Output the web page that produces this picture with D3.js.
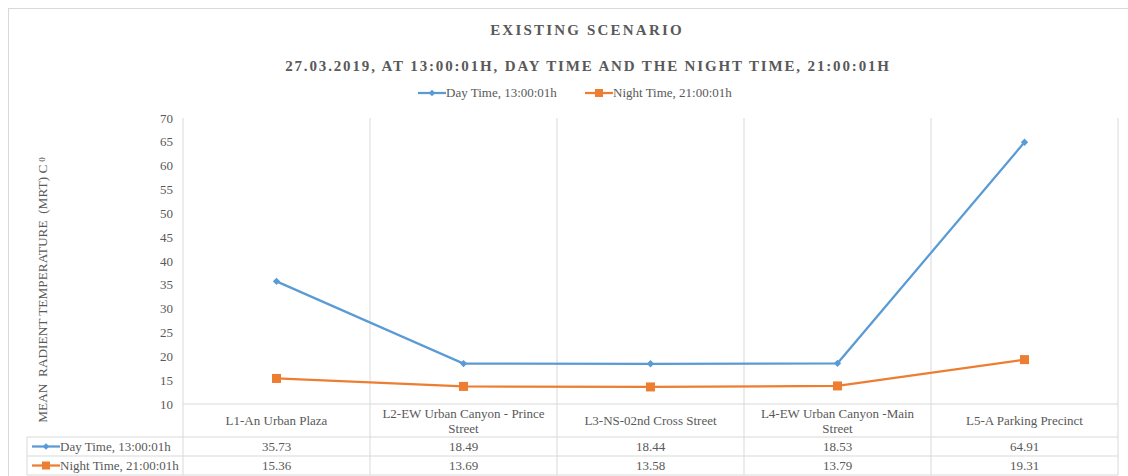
<!DOCTYPE html>
<html><head><meta charset="utf-8">
<script src="https://cdn.jsdelivr.net/npm/d3@7"></script>
<style>body{margin:0;background:#fff;}svg{display:block;} svg text{font-family:'Liberation Serif','DejaVu Serif',serif;}</style>
</head><body><svg id="c" width="1128" height="476" font-family="Liberation Serif, DejaVu Serif, serif"></svg>
<script>
const categories = [["L1-An Urban Plaza"],["L2-EW Urban Canyon - Prince","Street"],["L3-NS-02nd Cross Street"],["L4-EW Urban Canyon -Main","Street"],["L5-A Parking Precinct"]];
const dayValues = [35.73, 18.49, 18.44, 18.53, 64.91];
const nightValues = [15.36, 13.69, 13.58, 13.79, 19.31];
const seriesNames = ["Day Time, 13:00:01h", "Night Time, 21:00:01h"];
const yTicks = [10,15,20,25,30,35,40,45,50,55,60,65,70];
const title = "EXISTING SCENARIO";
const subtitle = "27.03.2019, AT 13:00:01H, DAY TIME AND THE NIGHT TIME, 21:00:01H";
const yLabel = "MEAN  RADIENT TEMPERATURE  (MRT) C";

const colors = ["#5B9BD5", "#ED7D31"];
const txt = "#595959", grid = "#d9d9d9";
const FF = "'Liberation Serif','DejaVu Serif',serif";
const svg = d3.select("#c");

svg.append("rect").attr("x",8.5).attr("y",8.5).attr("width",1130).attr("height",480).attr("fill","none").attr("stroke","#d9d9d9");

const pL = 183, pR = 1118, pT = 118, pB = 404;
const x = d3.scaleBand().domain(d3.range(categories.length)).range([pL, pR]);
const y = d3.scaleLinear().domain([10,70]).range([pB, pT]);

function T(sel){ return sel.append("text").style("font-family",FF).attr("fill",txt); }

T(svg).attr("x",587).attr("y",35).attr("text-anchor","middle").attr("font-size",15).attr("font-weight","bold").attr("letter-spacing",2.2).text(title);
T(svg).attr("x",588).attr("y",71).attr("text-anchor","middle").attr("font-size",15).attr("font-weight","bold").attr("letter-spacing",1.85).text(subtitle);

const leg = [{x:418, i:0},{x:585, i:1}];
leg.forEach(l=>{
  const g = svg.append("g");
  g.append("line").attr("x1",l.x).attr("x2",l.x+28).attr("y1",93).attr("y2",93).attr("stroke",colors[l.i]).attr("stroke-width",2.25);
  if(l.i===0) g.append("path").attr("d",d3.symbol(d3.symbolDiamond2,28)()).attr("transform",`translate(${l.x+14},93)`).attr("fill",colors[0]);
  else g.append("rect").attr("x",l.x+10).attr("y",89).attr("width",8).attr("height",8).attr("fill",colors[1]);
  T(g).attr("x",l.x+28).attr("y",97).attr("font-size",13).text(seriesNames[l.i]);
});

const yl = T(svg).attr("transform","translate(47,290) rotate(-90)").attr("text-anchor","middle").attr("font-size",13.3).attr("xml:space","preserve").style("white-space","pre");
yl.append("tspan").text(yLabel);
yl.append("tspan").attr("font-size",9).attr("dy",-2).attr("dx",3).text("0");

svg.append("g").selectAll("text").data(yTicks).join("text").style("font-family",FF).attr("fill",txt).attr("x",173).attr("y",d=>y(d)+4.5).attr("text-anchor","end").attr("font-size",13).text(d=>d);

const bounds = categories.map((c,i)=>x(i)).concat([pR]);
svg.append("g").selectAll("line").data(bounds).join("line").attr("x1",d=>d).attr("x2",d=>d).attr("y1",pT).attr("y2",475).attr("stroke",grid);
svg.append("line").attr("x1",pL).attr("x2",pR).attr("y1",pB).attr("y2",pB).attr("stroke",grid);

const rowY = [404, 437, 456, 475];
const tableLeft = 27;
rowY.slice(1).forEach(r=>svg.append("line").attr("x1",tableLeft).attr("x2",pR).attr("y1",r).attr("y2",r).attr("stroke",grid));
svg.append("line").attr("x1",tableLeft).attr("x2",tableLeft).attr("y1",437).attr("y2",475).attr("stroke",grid);

categories.forEach((c,i)=>{
  const cx = x(i)+x.bandwidth()/2;
  const t = T(svg).attr("text-anchor","middle").attr("font-size",13);
  if(c.length===1) t.append("tspan").attr("x",cx).attr("y",425).text(c[0]);
  else c.forEach((line,j)=>t.append("tspan").attr("x",cx).attr("y",418+j*15).text(line));
});

[dayValues, nightValues].forEach((vals,si)=>{
  const ry = (rowY[si+1]+rowY[si+2])/2;
  const lx = 32;
  svg.append("line").attr("x1",lx).attr("x2",lx+28).attr("y1",ry).attr("y2",ry).attr("stroke",colors[si]).attr("stroke-width",2.25);
  if(si===0) svg.append("path").attr("d",d3.symbol(d3.symbolDiamond2,28)()).attr("transform",`translate(${lx+14},${ry})`).attr("fill",colors[0]);
  else svg.append("rect").attr("x",lx+10).attr("y",ry-4).attr("width",8).attr("height",8).attr("fill",colors[1]);
  T(svg).attr("x",lx+28).attr("y",ry+4.5).attr("font-size",13).text(seriesNames[si]);
  svg.append("g").selectAll("text").data(vals).join("text").style("font-family",FF).attr("fill",txt).attr("x",(d,i)=>x(i)+x.bandwidth()/2).attr("y",ry+4.5).attr("text-anchor","middle").attr("font-size",13).text(d=>d.toFixed(2));
});

const line = d3.line().x((d,i)=>x(i)+x.bandwidth()/2).y(d=>y(d));
svg.append("path").datum(dayValues).attr("d",line).attr("fill","none").attr("stroke",colors[0]).attr("stroke-width",2.25);
svg.append("path").datum(nightValues).attr("d",line).attr("fill","none").attr("stroke",colors[1]).attr("stroke-width",2.25);
svg.append("g").selectAll("path").data(dayValues).join("path").attr("d",d3.symbol(d3.symbolDiamond2,34)()).attr("transform",(d,i)=>`translate(${x(i)+x.bandwidth()/2},${y(d)})`).attr("fill",colors[0]);
svg.append("g").selectAll("rect").data(nightValues).join("rect").attr("x",(d,i)=>x(i)+x.bandwidth()/2-4.5).attr("y",d=>y(d)-4.5).attr("width",9).attr("height",9).attr("fill",colors[1]);
</script></body></html>
